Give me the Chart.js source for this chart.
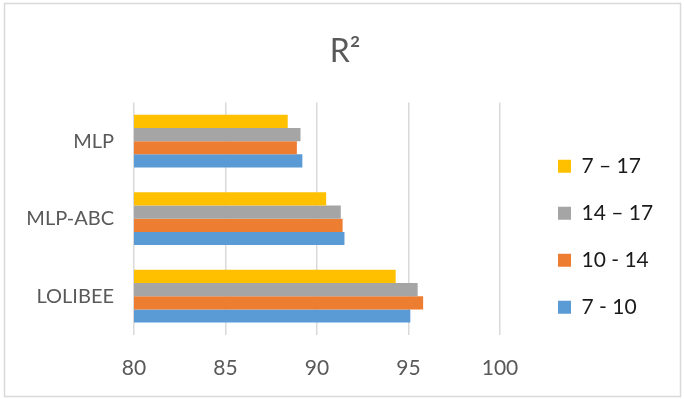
<!DOCTYPE html>
<html>
<head>
<meta charset="utf-8">
<script src="https://cdn.jsdelivr.net/npm/chart.js@4"></script>
<style>
html,body{margin:0;padding:0;background:#fff;}
#wrap{position:relative;width:684px;height:399px;}
</style>
</head>
<body>
<div id="wrap"><canvas id="c" width="684" height="399"></canvas></div>
<script>
const categories = ['MLP', 'MLP-ABC', 'LOLIBEE'];
const seriesNames = ['7 \u2013 17', '14 \u2013 17', '10 - 14', '7 - 10'];
const s7_17 = [88.4, 90.5, 94.3];
const s14_17 = [89.1, 91.3, 95.5];
const s10_14 = [88.9, 91.4, 95.8];
const s7_10 = [89.2, 91.5, 95.1];
const xTicks = [80, 85, 90, 95, 100];
const colors = ['#FFC000', '#A5A5A5', '#ED7D31', '#5B9BD5'];

const FONT = 'Lato, "Liberation Sans", sans-serif';

const frame = {
  id: 'frame',
  beforeDraw(chart) {
    const ctx = chart.ctx;
    ctx.save();
    ctx.fillStyle = '#fff';
    ctx.fillRect(0, 0, chart.width, chart.height);
    ctx.strokeStyle = '#d9d9d9';
    ctx.lineWidth = 1.5;
    ctx.strokeRect(4.5, 3.5, 676, 393);
    ctx.restore();
  }
};

// move the legend box to the right after layout
const legendShift = {
  id: 'legendShift',
  afterLayout(chart) {
    const lg = chart.legend;
    if (lg) { lg.left += 32; lg.right += 32; }
  }
};

new Chart(document.getElementById('c'), {
  type: 'bar',
  data: {
    labels: categories,
    datasets: [s7_17, s14_17, s10_14, s7_10].map((d, i) => ({
      label: seriesNames[i],
      data: d,
      backgroundColor: colors[i],
      borderWidth: 0,
      categoryPercentage: 0.68,
      barPercentage: 1.0
    }))
  },
  options: {
    indexAxis: 'y',
    responsive: false,
    animation: false,
    layout: { padding: { left: 26, right: 20, top: 0, bottom: 0 } },
    plugins: {
      title: {
        display: true,
        text: 'R\u00B2',
        color: '#595959',
        font: { family: FONT, size: 32, weight: 'normal' },
        padding: { top: 32, bottom: 32 }
      },
      legend: {
        position: 'right',
        title: { display: true, text: '', font: { size: 12 }, padding: { top: 60, bottom: 0 } },
        labels: {
          color: '#1a1a1a',
          font: { family: FONT, size: 21 },
          boxWidth: 13,
          boxHeight: 13,
          padding: 26
        }
      },
      tooltip: { enabled: false }
    },
    scales: {
      x: {
        min: 80,
        max: 100,
        afterBuildTicks(axis) { axis.ticks = xTicks.map(v => ({ value: v })); },
        afterFit(axis) { axis.paddingRight = 184; axis.height = 64; },
        grid: { color: '#d9d9d9', lineWidth: 1.5, drawTicks: false },
        border: { display: false },
        ticks: { color: '#595959', font: { family: FONT, size: 21 }, padding: 21 }
      },
      y: {
        afterFit(axis) { axis.width = 108; },
        grid: { display: false, drawTicks: false },
        border: { display: false },
        ticks: { color: '#595959', font: { family: FONT, size: 20 }, padding: 20 }
      }
    }
  },
  plugins: [frame, legendShift]
});
</script>
</body>
</html>
